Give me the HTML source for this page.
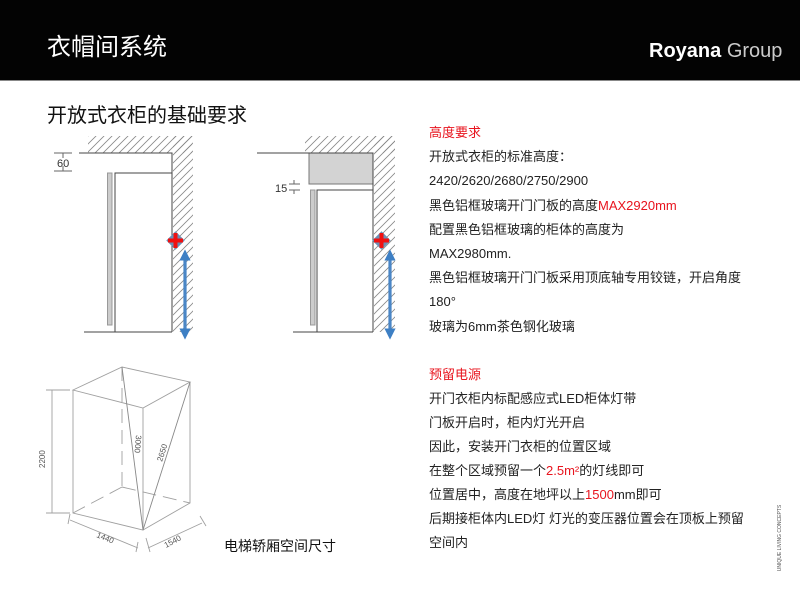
<!DOCTYPE html>
<html><head><meta charset="utf-8"><style>
body{margin:0;width:800px;height:600px;background:#fff;position:relative;overflow:hidden;font-family:"Liberation Sans","Noto Sans CJK SC",sans-serif}
.hdr{position:absolute;left:0;top:0;width:800px;height:80px;background:#030303;border-bottom:1px solid #888}
.t{position:absolute;white-space:nowrap}
.r{color:#e8141e}
.txt{position:absolute;left:429px;font-size:13px;color:#222;line-height:24.2px;white-space:nowrap}
</style></head><body>
<div class="hdr"></div>
<div class="t" style="left:47px;top:27px;font-size:24px;color:#fff">衣帽间系统</div>
<div class="t" style="left:649px;top:40px;font-size:20px;color:#fff"><b>Royana</b> <span style="color:#ccc">Group</span></div>
<div class="t" style="left:47px;top:99px;font-size:20px;color:#111">开放式衣柜的基础要求</div>
<div class="txt" style="top:121px"><span class="r">高度要求</span><br>开放式衣柜的标准高度：<br>2420/2620/2680/2750/2900<br>黑色铝框玻璃开门门板的高度<span class="r">MAX2920mm</span><br>配置黑色铝框玻璃的柜体的高度为<br>MAX2980mm.<br>黑色铝框玻璃开门门板采用顶底轴专用铰链，开启角度<br>180°<br>玻璃为6mm茶色钢化玻璃</div>
<div class="txt" style="top:363px;line-height:24px"><span class="r">预留电源</span><br>开门衣柜内标配感应式LED柜体灯带<br>门板开启时，柜内灯光开启<br>因此，安装开门衣柜的位置区域<br>在整个区域预留一个<span class="r">2.5m²</span>的灯线即可<br>位置居中，高度在地坪以上<span class="r">1500</span>mm即可<br>后期接柜体内LED灯 灯光的变压器位置会在顶板上预留<br>空间内</div>
<div class="t" style="left:224px;top:536px;font-size:14px;color:#111">电梯轿厢空间尺寸</div>
<div class="t" style="left:740px;top:535px;font-size:5px;color:#555;transform:rotate(-90deg);transform-origin:center;width:80px;text-align:center">UNIQUE LIVING CONCEPTS</div>
<svg width="800" height="600" style="position:absolute;left:0;top:0" fill="none">
<defs>
<pattern id="h" width="8" height="8" patternUnits="userSpaceOnUse"><path d="M0 8L8 0M-2 2L2 -2M6 10L10 6" stroke="#888" stroke-width="0.8"/></pattern>
<marker id="a" viewBox="0 0 10 10" refX="5" refY="5" markerWidth="3.5" markerHeight="3.5" orient="auto-start-reverse"><path d="M0 0L10 5L0 10z" fill="#3d7fc4"/></marker>
</defs>
<g stroke="#444" stroke-width="1">
<rect x="88" y="136" width="104" height="17" fill="url(#h)" stroke="none"/>
<rect x="173" y="136" width="20" height="196" fill="url(#h)" stroke="none"/>
<path d="M79 153H172V332M84 332H172M115 332V173H172"/>
<rect x="107.5" y="173" width="4.5" height="152" fill="#ccc" stroke="#999"/>
<path d="M54 153H72M54 171H72M63 153V158M63 166V171" stroke="#666"/>
<rect x="305" y="136" width="90" height="17" fill="url(#h)" stroke="none"/>
<rect x="374" y="136" width="21" height="196" fill="url(#h)" stroke="none"/>
<rect x="309" y="153" width="64" height="31" fill="#d3d3d3" stroke="#777"/>
<path d="M257 153H373V332M293 332H373M317 332V190H373"/>
<rect x="310.5" y="190" width="4.5" height="135" fill="#ccc" stroke="#999"/>
<path d="M289 184H300M289 190H300M294 180V184M294 190V194" stroke="#666"/>
</g>
<text x="57" y="167" font-size="11" fill="#333" font-family="Liberation Sans">60</text>
<text x="275" y="192" font-size="11" fill="#333" font-family="Liberation Sans">15</text>
<g>
<rect x="169" y="234" width="13" height="13" fill="#6a8fb5" transform="rotate(45 175.5 240.5)"/>
<path d="M175.5 233V248M168 240.5H183" stroke="#f01010" stroke-width="4"/>
<line x1="185" y1="255" x2="185" y2="334" stroke="#4a86c6" stroke-width="3.2" marker-start="url(#a)" marker-end="url(#a)"/>
<rect x="375" y="234" width="13" height="13" fill="#6a8fb5" transform="rotate(45 381.5 240.5)"/>
<path d="M381.5 233V248M374 240.5H389" stroke="#f01010" stroke-width="4"/>
<line x1="390" y1="255" x2="390" y2="334" stroke="#4a86c6" stroke-width="3.2" marker-start="url(#a)" marker-end="url(#a)"/>
</g>
<g stroke="#a0a0a0" stroke-width="0.9">
<path d="M73 390L122 367L190 382L143 408ZM73 390V513L143 530V408M190 382V503L143 530"/>
<path d="M122 367V487M122 487L73 513M122 487L190 503" stroke-dasharray="14 7"/>
<path d="M122 367L143 530M190 382L143 530" stroke="#888"/>
<path d="M52 390V513M46 390H70M46 513H70M70 520L138 548M70 514L68 524M138 542L136 552M148 548L202 523M146 538L150 552M200 516L206 526"/>
</g>
<g font-size="8" fill="#555" font-family="Liberation Sans">
<text transform="translate(45,468) rotate(-90)">2200</text>
<text transform="translate(96,537) rotate(22)">1440</text>
<text transform="translate(166,548) rotate(-28)">1540</text>
<text transform="translate(136,435) rotate(95)">3000</text>
<text transform="translate(162,462) rotate(-72)">2650</text>
</g>
</svg>
</body></html>
